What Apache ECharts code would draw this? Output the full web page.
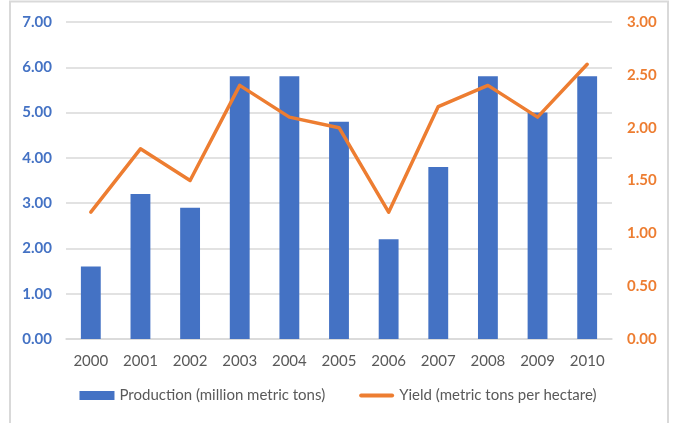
<!DOCTYPE html>
<html><head><meta charset="utf-8">
<script src="https://cdn.jsdelivr.net/npm/echarts@6/dist/echarts.min.js"></script>
<style>html,body{margin:0;padding:0;background:#fff}#c{width:676px;height:423px}</style>
</head><body><div id="c"></div>
<script>
const years = ['2000','2001','2002','2003','2004','2005','2006','2007','2008','2009','2010'];
const production = [1.6, 3.2, 2.9, 5.8, 5.8, 4.8, 2.2, 3.8, 5.8, 5.0, 5.8];
const yieldVals = [1.2, 1.8, 1.5, 2.4, 2.1, 2.0, 1.2, 2.2, 2.4, 2.1, 2.6];
const FONT = 'Lato';
const chart = echarts.init(document.getElementById('c'));
chart.setOption({
  animation: false,
  textStyle: {fontFamily: FONT},
  graphic: [{type:'rect', shape:{x:10, y:1.5, width:658, height:440}, style:{fill:'none', stroke:'#D9D9D9', lineWidth:2}, silent:true}],
  grid: {left: 66, right: 64, top: 22, bottom: 84},
  legend: {
    bottom: 15, left: 'center', itemGap: 34, itemWidth: 35, itemHeight: 9,
    symbolKeepAspect: true,
    textStyle: {color:'#595959', fontSize: 15, fontFamily: FONT},
    data: [
      {name:'Production (million metric tons)', icon:'rect'},
      {name:'Yield (metric tons per hectare)', icon:'path://M2,0H33A2,2,0,0,1,33,4H2A2,2,0,0,1,2,0Z'}
    ]
  },
  xAxis: {
    type:'category', data: years,
    axisLine:{lineStyle:{color:'#D9D9D9', width:1.5}},
    axisTick:{show:false},
    axisLabel:{color:'#595959', fontSize:15, margin:15, fontFamily: FONT}
  },
  yAxis: [
    {type:'value', min:0, max:7, interval:1,
     axisLabel:{color:'#4472C4', fontWeight:'bold', fontSize:15, margin:14, fontFamily: FONT, formatter: v => v.toFixed(2)},
     splitLine:{lineStyle:{color:'#D9D9D9', width:1.5}}, axisLine:{show:false}, axisTick:{show:false}},
    {type:'value', min:0, max:3, interval:0.5,
     axisLabel:{color:'#ED7D31', fontWeight:'bold', fontSize:15, margin:15, fontFamily: FONT, formatter: v => v.toFixed(2)},
     splitLine:{show:false}, axisLine:{show:false}, axisTick:{show:false}}
  ],
  series: [
    {name:'Production (million metric tons)', type:'bar', data: production, barWidth:'40%',
     itemStyle:{color:'#4472C4'}},
    {name:'Yield (metric tons per hectare)', type:'line', yAxisIndex:1, data: yieldVals,
     symbol:'none', lineStyle:{color:'#ED7D31', width:3.5, join:'round', cap:'round'}, itemStyle:{color:'#ED7D31'}}
  ]
});
</script></body></html>
